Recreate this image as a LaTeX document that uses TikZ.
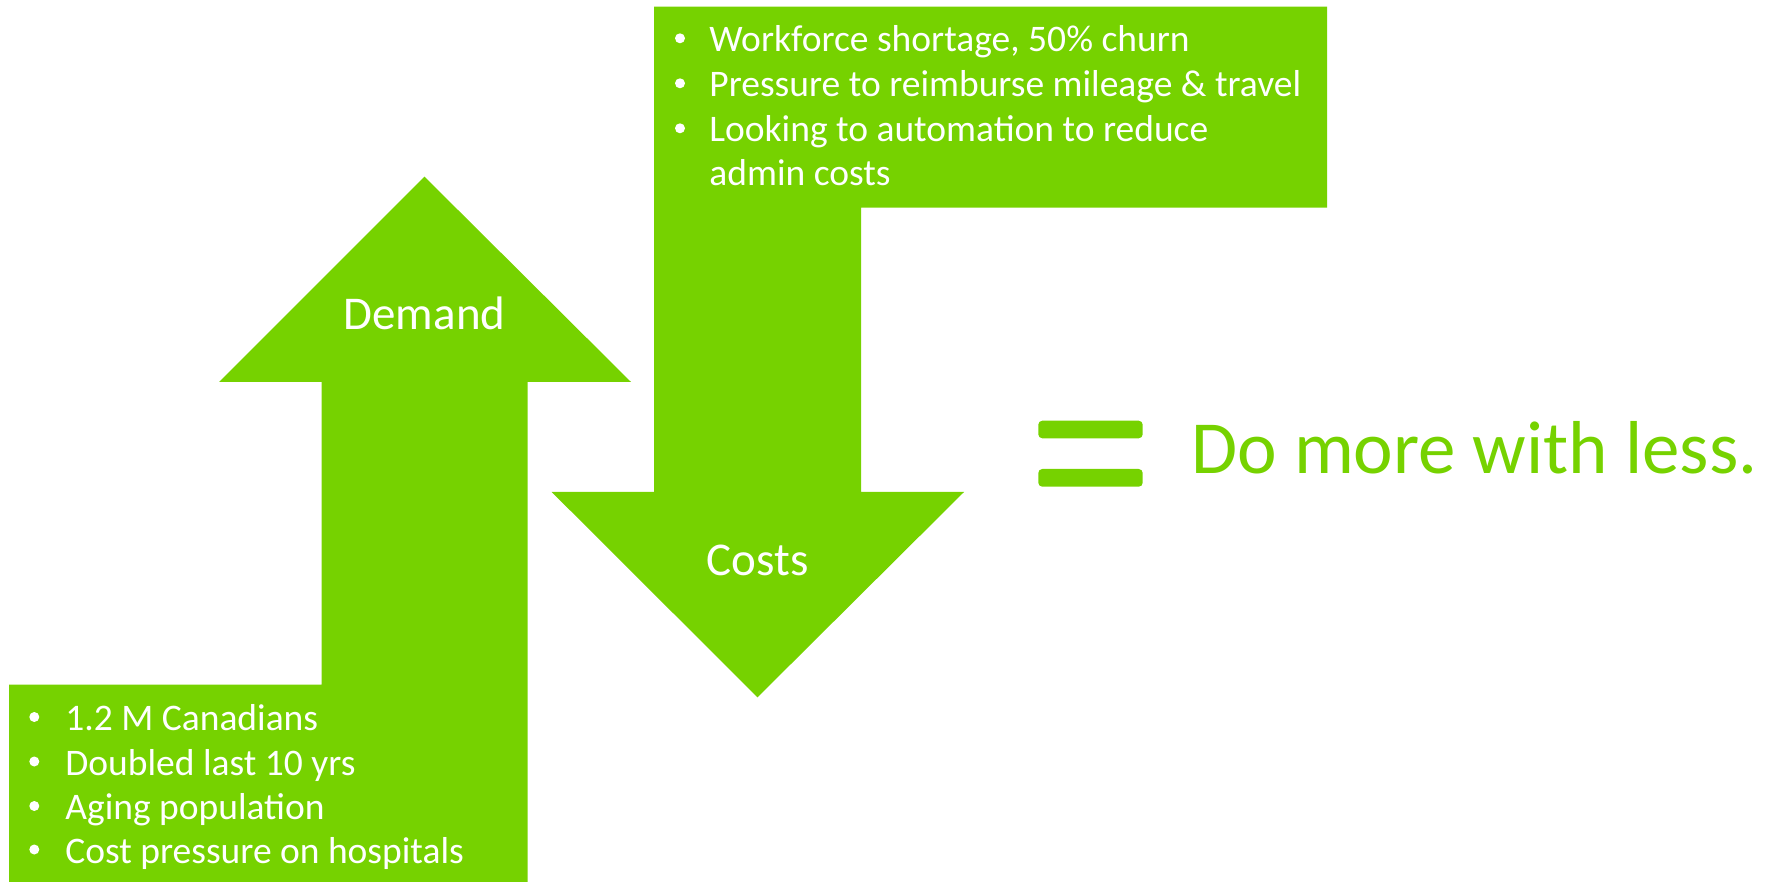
\documentclass[tikz,border=0pt]{standalone}
\usepackage{fontspec}
\setmainfont{Carlito}
\definecolor{leaf}{RGB}{118,210,0}
\tikzset{
  arrowfill/.style={fill=leaf, draw=none},
  itemtxt/.style={anchor=base west, inner sep=0pt, text=white,
    font=\fontsize{18.75pt}{22pt}\selectfont},
  dot/.style={circle, fill=white, draw=none, inner sep=0pt, minimum size=5pt},
  headtxt/.style={anchor=base, inner sep=0pt, text=white,
    font=\fontsize{23.5pt}{28pt}\selectfont},
  bigtxt/.style={anchor=base west, inner sep=0pt, text=leaf,
    font=\fontsize{37.5pt}{45pt}\selectfont},
  eqbar/.style={fill=leaf, draw=none, rounded corners=2pt},
}
\begin{document}
\begin{tikzpicture}[x=0.5pt,y=-0.5pt]
\useasboundingbox (0,0) rectangle (1769,882);

% upward arrow standing on its list box
\fill[arrowfill] (424.5,176.7) -- (631,382) -- (527.7,382) -- (527.7,882)
  -- (9,882) -- (9,684.7) -- (321.7,684.7) -- (321.7,382) -- (219,382) -- cycle;

% downward arrow hanging from its list box
\fill[arrowfill] (654,6.7) -- (1327,6.7) -- (1327,207.7) -- (861,207.7)
  -- (861,492) -- (964,492) -- (757.5,697.3) -- (551.7,492) -- (654,492) -- cycle;

% arrow labels
\node[headtxt] (demand) at (424.5,330) {Demand};
\node[headtxt] (costs) at (757.5,575) {Costs};

% list in the upper box
\node[dot] (b1) at (680,38.3) {};
\node[itemtxt] (t1) at (709,51.7) {Workforce shortage, 50\% churn};
\node[dot] (b2) at (680,83.3) {};
\node[itemtxt] (t2) at (709,96.7) {Pressure to reimburse mileage \& travel};
\node[dot] (b3) at (680,128.3) {};
\node[itemtxt] (t3) at (709,141.7) {Looking to automation to reduce};
\node[itemtxt] (t4) at (709,185.7) {admin costs};

% list in the lower box
\node[dot] (c1) at (34.3,717) {};
\node[itemtxt] (u1) at (65,730.7) {1.2 M Canadians};
\node[dot] (c2) at (34.3,761.5) {};
\node[itemtxt] (u2) at (65,775) {Doubled last 10 yrs};
\node[dot] (c3) at (34.3,806) {};
\node[itemtxt] (u3) at (65,819.5) {Aging population};
\node[dot] (c4) at (34.3,849.5) {};
\node[itemtxt] (u4) at (65,863) {Cost pressure on hospitals};

% equals sign and conclusion
\fill[eqbar] (1038.3,420.7) rectangle (1142.7,438.3);
\fill[eqbar] (1038.3,469) rectangle (1142.7,486.7);
\node[bigtxt] (slogan) at (1191,473.3) {Do more with less.};
\end{tikzpicture}
\end{document}
